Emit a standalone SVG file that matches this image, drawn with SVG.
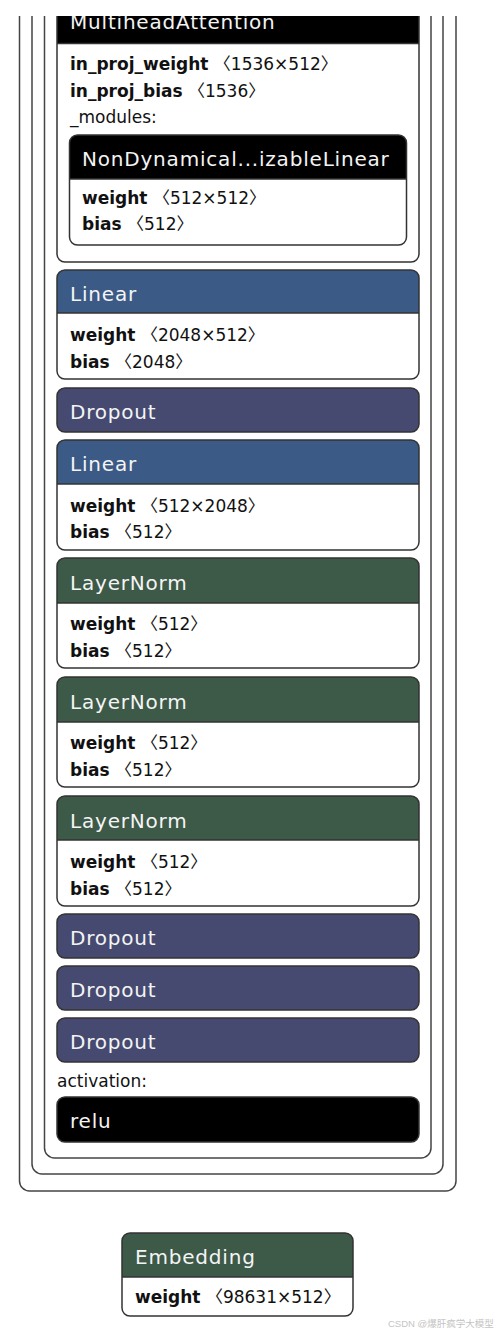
<svg xmlns="http://www.w3.org/2000/svg" width="498" height="1336" viewBox="0 0 498 1336">
<style>
.frame{fill:none;stroke:#444;stroke-width:1.5}
.out{fill:none;stroke:#333;stroke-width:1.5}
.sep{stroke:#333;stroke-width:1.5}
.body{fill:#fff}
.hd{font-family:"DejaVu Sans",sans-serif;font-size:20px;fill:#f4f4f4;letter-spacing:0.8px}
.tx{font-family:"DejaVu Sans",sans-serif;font-size:17px;fill:#111}
.b{font-weight:bold}
.k{font-family:"Noto Sans CJK SC",sans-serif}
.lin{fill:#3b5a86}
.drop{fill:#464a70}
.ln{fill:#3d5948}
.blk{fill:#000}
</style>
<defs>
<clipPath id="top"><rect x="0" y="16" width="498" height="1320"/></clipPath>
</defs>
<rect width="498" height="1336" fill="#fff"/>
<g clip-path="url(#top)">
<g id="frames">
<rect class="frame" x="19.5" y="-40" width="436.5" height="1231" rx="10"/>
<rect class="frame" x="32" y="-40" width="411" height="1214" rx="10"/>
<rect class="frame" x="44.5" y="-40" width="386.5" height="1198" rx="10"/>
</g>
<g id="MultiheadAttention">
<rect class="blk" x="57" y="-10" width="362" height="272" rx="8"/>
<path class="body" d="M57,43.5 H419 V254 Q419,262 411,262 H65 Q57,262 57,254 Z"/>
<line class="sep" x1="57" y1="43.5" x2="419" y2="43.5"/>
<rect class="out" x="57" y="-10" width="362" height="272" rx="8"/>
<text class="hd" x="70" y="29">MultiheadAttention</text>
<text class="tx" x="70" y="70"><tspan class="b">in_proj_weight</tspan> <tspan class="k">〈</tspan>1536×512<tspan class="k">〉</tspan></text>
<text class="tx" x="70" y="97"><tspan class="b">in_proj_bias</tspan> <tspan class="k">〈</tspan>1536<tspan class="k">〉</tspan></text>
<text class="tx" x="70" y="123">_modules:</text>
</g>
</g>
<g id="NonDynamicallyQuantizableLinear">
<rect class="blk" x="69.5" y="135" width="337" height="110" rx="8"/>
<path class="body" d="M69.5,179 H406.5 V237 Q406.5,245 398.5,245 H77.5 Q69.5,245 69.5,237 Z"/>
<line class="sep" x1="69.5" y1="179" x2="406.5" y2="179"/>
<rect class="out" x="69.5" y="135" width="337" height="110" rx="8"/>
<text class="hd" x="82" y="166">NonDynamical...izableLinear</text>
<text class="tx" x="82" y="204"><tspan class="b">weight</tspan> <tspan class="k">〈</tspan>512×512<tspan class="k">〉</tspan></text>
<text class="tx" x="82" y="230"><tspan class="b">bias</tspan> <tspan class="k">〈</tspan>512<tspan class="k">〉</tspan></text>
</g>
<g id="Linear1">
<rect class="lin" x="57" y="270" width="362" height="109" rx="8"/>
<path class="body" d="M57,313 H419 V371 Q419,379 411,379 H65 Q57,379 57,371 Z"/>
<line class="sep" x1="57" y1="313" x2="419" y2="313"/>
<rect class="out" x="57" y="270" width="362" height="109" rx="8"/>
<text class="hd" x="70" y="301">Linear</text>
<text class="tx" x="70" y="341"><tspan class="b">weight</tspan> <tspan class="k">〈</tspan>2048×512<tspan class="k">〉</tspan></text>
<text class="tx" x="70" y="368"><tspan class="b">bias</tspan> <tspan class="k">〈</tspan>2048<tspan class="k">〉</tspan></text>
</g>
<g id="Dropout1">
<rect class="drop" x="57" y="388" width="362" height="44" rx="8"/>
<rect class="out" x="57" y="388" width="362" height="44" rx="8"/>
<text class="hd" x="70" y="419">Dropout</text>
</g>
<g id="Linear2">
<rect class="lin" x="57" y="440" width="362" height="110" rx="8"/>
<path class="body" d="M57,484 H419 V542 Q419,550 411,550 H65 Q57,550 57,542 Z"/>
<line class="sep" x1="57" y1="484" x2="419" y2="484"/>
<rect class="out" x="57" y="440" width="362" height="110" rx="8"/>
<text class="hd" x="70" y="471">Linear</text>
<text class="tx" x="70" y="512"><tspan class="b">weight</tspan> <tspan class="k">〈</tspan>512×2048<tspan class="k">〉</tspan></text>
<text class="tx" x="70" y="538"><tspan class="b">bias</tspan> <tspan class="k">〈</tspan>512<tspan class="k">〉</tspan></text>
</g>
<g id="LayerNorm1">
<rect class="ln" x="57" y="558" width="362" height="110" rx="8"/>
<path class="body" d="M57,603 H419 V660 Q419,668 411,668 H65 Q57,668 57,660 Z"/>
<line class="sep" x1="57" y1="603" x2="419" y2="603"/>
<rect class="out" x="57" y="558" width="362" height="110" rx="8"/>
<text class="hd" x="70" y="590">LayerNorm</text>
<text class="tx" x="70" y="630"><tspan class="b">weight</tspan> <tspan class="k">〈</tspan>512<tspan class="k">〉</tspan></text>
<text class="tx" x="70" y="657"><tspan class="b">bias</tspan> <tspan class="k">〈</tspan>512<tspan class="k">〉</tspan></text>
</g>
<g id="LayerNorm2">
<rect class="ln" x="57" y="677" width="362" height="110" rx="8"/>
<path class="body" d="M57,722 H419 V779 Q419,787 411,787 H65 Q57,787 57,779 Z"/>
<line class="sep" x1="57" y1="722" x2="419" y2="722"/>
<rect class="out" x="57" y="677" width="362" height="110" rx="8"/>
<text class="hd" x="70" y="709">LayerNorm</text>
<text class="tx" x="70" y="749"><tspan class="b">weight</tspan> <tspan class="k">〈</tspan>512<tspan class="k">〉</tspan></text>
<text class="tx" x="70" y="776"><tspan class="b">bias</tspan> <tspan class="k">〈</tspan>512<tspan class="k">〉</tspan></text>
</g>
<g id="LayerNorm3">
<rect class="ln" x="57" y="796" width="362" height="110" rx="8"/>
<path class="body" d="M57,840 H419 V898 Q419,906 411,906 H65 Q57,906 57,898 Z"/>
<line class="sep" x1="57" y1="840" x2="419" y2="840"/>
<rect class="out" x="57" y="796" width="362" height="110" rx="8"/>
<text class="hd" x="70" y="828">LayerNorm</text>
<text class="tx" x="70" y="868"><tspan class="b">weight</tspan> <tspan class="k">〈</tspan>512<tspan class="k">〉</tspan></text>
<text class="tx" x="70" y="895"><tspan class="b">bias</tspan> <tspan class="k">〈</tspan>512<tspan class="k">〉</tspan></text>
</g>
<g id="Dropout2">
<rect class="drop" x="57" y="914" width="362" height="44" rx="8"/>
<rect class="out" x="57" y="914" width="362" height="44" rx="8"/>
<text class="hd" x="70" y="945">Dropout</text>
</g>
<g id="Dropout3">
<rect class="drop" x="57" y="966" width="362" height="44" rx="8"/>
<rect class="out" x="57" y="966" width="362" height="44" rx="8"/>
<text class="hd" x="70" y="997">Dropout</text>
</g>
<g id="Dropout4">
<rect class="drop" x="57" y="1018" width="362" height="44" rx="8"/>
<rect class="out" x="57" y="1018" width="362" height="44" rx="8"/>
<text class="hd" x="70" y="1049">Dropout</text>
</g>
<text class="tx" x="57" y="1087">activation:</text>
<g id="relu">
<rect class="blk" x="57" y="1097" width="362" height="45" rx="8"/>
<rect class="out" x="57" y="1097" width="362" height="45" rx="8"/>
<text class="hd" x="70" y="1128">relu</text>
</g>
<g id="Embedding">
<rect class="ln" x="122" y="1233" width="231" height="83" rx="8"/>
<path class="body" d="M122,1277 H353 V1308 Q353,1316 345,1316 H130 Q122,1316 122,1308 Z"/>
<line class="sep" x1="122" y1="1277" x2="353" y2="1277"/>
<rect class="out" x="122" y="1233" width="231" height="83" rx="8"/>
<text class="hd" x="135" y="1264">Embedding</text>
<text class="tx" x="135" y="1303"><tspan class="b">weight</tspan> <tspan class="k">〈</tspan>98631×512<tspan class="k">〉</tspan></text>
</g>
<g id="connectors"/>
<text x="388" y="1327" font-family="'Liberation Sans','Noto Sans CJK SC',sans-serif" font-size="9.5" fill="#c4c4c4">CSDN @爆肝疯学大模型</text>
</svg>
